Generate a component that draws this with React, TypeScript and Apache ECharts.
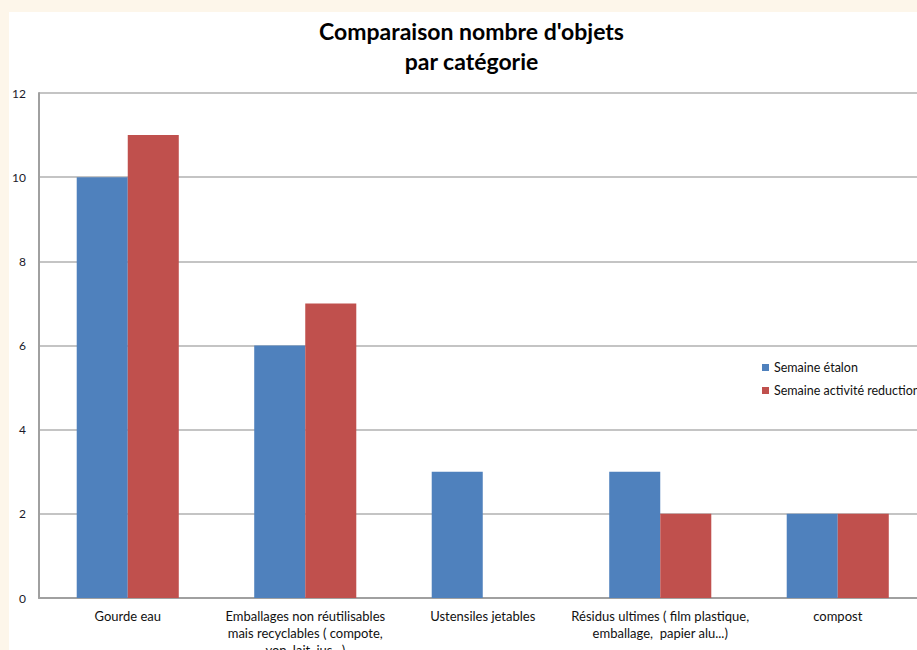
import React, { useEffect, useRef } from "react";
import * as echarts from "echarts";

const categories = [
  "Gourde eau",
  "Emballages non réutilisables\nmais recyclables ( compote,\nyop, lait, jus...)",
  "Ustensiles jetables",
  "Résidus ultimes ( film plastique,\nemballage,  papier alu...)",
  "compost",
];
const semaineEtalon = [10, 6, 3, 3, 2];
const semaineReduction = [11, 7, 0, 2, 2];
const seriesNames = ["Semaine étalon", "Semaine activité reduction"];
const titleLines = ["Comparaison nombre d'objets", "par catégorie"];

const FONT = "Lato, 'Open Sans', sans-serif";

export default function App() {
  const ref = useRef<HTMLDivElement>(null);
  useEffect(() => {
    if (!ref.current) return;
    const chart = echarts.init(ref.current, null, { renderer: "svg" });
    chart.setOption({
      animation: false,
      backgroundColor: "#ffffff",
      textStyle: { fontFamily: FONT },
      title: {
        text: titleLines.join("\n"),
        left: "center",
        top: -1,
        textStyle: {
          fontFamily: FONT,
          fontSize: 23,
          fontWeight: "bold",
          color: "#000",
          lineHeight: 30,
        },
      },
      legend: {
        orient: "vertical",
        left: 748,
        top: 344,
        icon: "rect",
        itemWidth: 7,
        itemHeight: 7,
        itemGap: 10,
        itemStyle: { borderWidth: 0 },
        textStyle: { fontFamily: FONT, fontSize: 12.5, color: "#111" },
        data: seriesNames,
      },
      grid: { left: 30, right: 7.5, top: 81, bottom: 74, containLabel: false },
      xAxis: {
        type: "category",
        data: categories,
        axisLine: { lineStyle: { color: "#a0a0a0", width: 2 } },
        axisTick: { show: false },
        axisLabel: {
          interval: 0,
          margin: 9,
          fontFamily: FONT,
          fontSize: 13,
          lineHeight: 17,
          color: "#111",
        },
      },
      yAxis: {
        type: "value",
        min: 0,
        max: 12,
        interval: 2,
        axisLine: { show: true, lineStyle: { color: "#a0a0a0", width: 2 } },
        axisTick: { show: false },
        splitLine: { lineStyle: { color: "#b0b0b0", width: 1.5 } },
        axisLabel: {
          margin: 13,
          fontFamily: FONT,
          fontSize: 12,
          color: "#1a1a2a",
        },
      },
      series: [
        {
          name: seriesNames[0],
          type: "bar",
          data: semaineEtalon,
          itemStyle: { color: "#4F81BD" },
          barGap: "0%",
          barCategoryGap: "42.5%",
        },
        {
          name: seriesNames[1],
          type: "bar",
          data: semaineReduction,
          itemStyle: { color: "#C0504D" },
          barGap: "0%",
          barCategoryGap: "42.5%",
        },
      ],
    });
    return () => chart.dispose();
  }, []);
  return (
    <div
      style={{
        position: "fixed",
        inset: 0,
        background: "#fdf6ea",
        overflow: "hidden",
      }}
    >
      <div
        ref={ref}
        style={{ position: "absolute", left: 9, top: 12, width: 925, height: 660 }}
      />
    </div>
  );
}
